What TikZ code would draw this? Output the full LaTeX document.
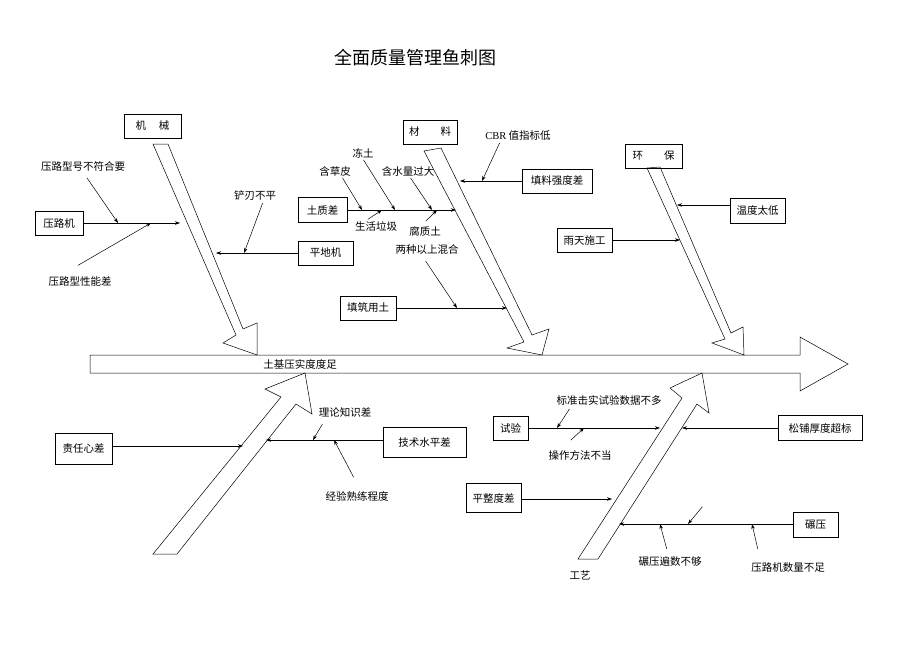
\documentclass[tikz,border=0pt]{standalone}
\usepackage{fontspec}
\setmainfont{Liberation Serif}
\newfontfamily\cjk{Noto Sans CJK SC}
\usetikzlibrary{arrows.meta}
\newcommand{\txt}{\cjk\fontsize{10.5}{12}\selectfont}

\begin{document}
\begin{tikzpicture}[x=1pt,y=-1pt,line width=0.5pt,
		box/.style={draw,inner sep=0pt,font=\txt},
		lbl/.style={inner sep=1pt,font=\txt},
		cause/.style={-{Stealth[length=5pt,width=3.5pt]}},
		lead/.style={-{Stealth[length=5pt,width=3.5pt]},shorten <=1pt}]
		\useasboundingbox (0,0) rectangle (920,651);
		
		\node [font=\cjk\fontsize{18}{20}\selectfont] (title) at (415,58) {全面质量管理鱼刺图};
		
		% spine
		\draw (90,355) -- (800,355) -- (800,337) -- (848,364) -- (800,391) -- (800,373) -- (90,373) -- cycle;
		\node [lbl] (effect) at (300,364) {土基压实度度足};
		
		% main bones
		\draw (153,144) -- (236,335) -- (223,343) -- (257,355) -- (257,323) -- (243,329) -- (168,144) -- cycle;
		\draw (424,151) -- (524,342) -- (507,348) -- (542,355) -- (549,329) -- (532,335) -- (441,148) -- cycle;
		\draw (647,168) -- (725,339) -- (712,343) -- (744,355) -- (743,327) -- (731,333) -- (660,167) -- cycle;
		\draw (153,554) -- (281,397) -- (265,389) -- (305,373) -- (312,414) -- (296,404) -- (177,554) -- cycle;
		\draw (578,559) -- (682,398) -- (670,388) -- (702,373) -- (709,413) -- (697,404) -- (598,559) -- cycle;
		
		% boxes
		\node [box,minimum width=57pt,minimum height=24pt] (jixie) at (152.5,126) {机\hspace{1.2em}械};
		\node [box,minimum width=54pt,minimum height=24pt] (cailiao) at (430,132) {材\hspace{2em}料};
		\node [box,minimum width=57pt,minimum height=24pt] (huanbao) at (653.5,156) {环\hspace{2em}保};
		\node [box,minimum width=48pt,minimum height=24pt] (yaluji) at (59,223) {压路机};
		\node [box,minimum width=55pt,minimum height=24pt] (pingdiji) at (325.5,253) {平地机};
		\node [box,minimum width=49pt,minimum height=25pt] (tuzhi) at (322.5,210) {土质差};
		\node [box,minimum width=70pt,minimum height=24pt] (tianliao) at (557,181) {填料强度差};
		\node [box,minimum width=56pt,minimum height=24pt] (tianzhu) at (368,308) {填筑用土};
		\node [box,minimum width=55pt,minimum height=25pt] (wendu) at (757.5,210.5) {温度太低};
		\node [box,minimum width=55pt,minimum height=24pt] (yutian) at (584.5,240) {雨天施工};
		\node [box,minimum width=57pt,minimum height=31pt] (zeren) at (83.5,448.5) {责任心差};
		\node [box,minimum width=83pt,minimum height=30pt] (jishu) at (424.5,442) {技术水平差\hspace{10pt}};
		\node [box,minimum width=35pt,minimum height=24pt] (shiyan) at (510.5,428) {试验};
		\node [box,minimum width=84pt,minimum height=25pt] (songpu) at (820,428) {松铺厚度超标};
		\node [box,minimum width=55pt,minimum height=29pt] (pingzheng) at (493.5,498) {平整度差};
		\node [box,minimum width=45pt,minimum height=25pt] (nianya) at (815.5,524.5) {碾压};
		
		% ends of the cause lines
		\coordinate (j1) at (180,223);
		\coordinate (j2) at (216,253);
		\coordinate (j3) at (456,210);
		\coordinate (j4) at (460,181);
		\coordinate (j5) at (507,308);
		\coordinate (j6) at (677,205);
		\coordinate (j7) at (680,240);
		\coordinate (j8) at (243,446);
		\coordinate (j9) at (266,440);
		\coordinate (j10) at (660,428);
		\coordinate (j11) at (682,428);
		\coordinate (j12) at (612,499);
		\coordinate (j13) at (619,524);
		
		\draw [cause] (yaluji.east |- j1) -- (j1);
		\draw [cause] (pingdiji.west |- j2) -- (j2);
		\draw [cause] (tuzhi.east |- j3) -- (j3);
		\draw [cause] (tianliao.west |- j4) -- (j4);
		\draw [cause] (tianzhu.east |- j5) -- (j5);
		\draw [cause] (wendu.west |- j6) -- (j6);
		\draw [cause] (yutian.east |- j7) -- (j7);
		\draw [cause] (zeren.east |- j8) -- (j8);
		\draw [cause] (jishu.west |- j9) -- (j9);
		\draw [cause] (shiyan.east |- j10) -- (j10);
		\draw [cause] (songpu.west |- j11) -- (j11);
		\draw [cause] (pingzheng.east |- j12) -- (j12);
		\draw [cause] (nianya.west |- j13) -- (j13);
		
		% sub causes
		\node [lbl] (l1) at (83,166) {压路型号不符合要};
		\node [lbl] (l2) at (80,281) {压路型性能差};
		\node [lbl] (l3) at (255,196) {铲刃不平};
		\node [lbl] (l4) at (335,171) {含草皮};
		\node [lbl] (l5) at (363,153) {冻土};
		\node [lbl] (l6) at (408,171) {含水量过大};
		\node [lbl] (l7) at (376,226) {生活垃圾};
		\node [lbl] (l8) at (425,232) {腐质土};
		\node [lbl] (l9) at (518,136) {{\rmfamily CBR} 值指标低};
		\node [lbl] (l10) at (427,250) {两种以上混合};
		\node [lbl] (l11) at (345,412) {理论知识差};
		\node [lbl] (l12) at (357,496) {经验熟练程度};
		\node [lbl] (l13) at (609,400) {标准击实试验数据不多};
		\node [lbl] (l14) at (580,455) {操作方法不当};
		\node [lbl] (l15) at (670,562) {碾压遍数不够};
		\node [lbl] (l16) at (788,568) {压路机数量不足};
		\node [lbl] (l17) at (580,575) {工艺};
		
		\coordinate (p1) at (118,223);
		\coordinate (p2) at (151,223);
		\coordinate (p3) at (244,253);
		\coordinate (p4) at (362,210);
		\coordinate (p5) at (395,210);
		\coordinate (p6) at (432,210);
		\coordinate (p7) at (382,210);
		\coordinate (p8) at (437,210);
		\coordinate (p9) at (482,181);
		\coordinate (p10) at (457,308);
		\coordinate (p11) at (313,440);
		\coordinate (p12) at (334,440);
		\coordinate (p13) at (557,428);
		\coordinate (p14) at (584,428);
		\coordinate (p15) at (688,524);
		\coordinate (p16) at (660,524);
		\coordinate (p17) at (752,524);
		\coordinate (q15) at (703,506);
		
		\draw [lead,shorten <=7pt] (l1.south) -- (p1);
		\draw [lead] ([xshift=-3pt,yshift=9pt]l2.north) -- (p2);
		\draw [lead] ([xshift=8pt]l3.south) -- (p3);
		\draw [lead] ([xshift=7pt]l4.south) -- (p4);
		\draw [lead] (l5.south) -- (p5);
		\draw [lead] ([xshift=2pt]l6.south) -- (p6);
		\draw [lead] ([xshift=-9pt]l7.north) -- (p7);
		\draw [lead] ([yshift=4pt]l8.north) -- (p8);
		\draw [lead] ([xshift=-18pt]l9.south) -- (p9);
		\draw [lead] ([xshift=-2pt,yshift=-4pt]l10.south) -- (p10);
		\draw [lead] ([xshift=-22pt,yshift=-5pt]l11.south) -- (p11);
		\draw [lead] ([xshift=-3pt,yshift=12pt]l12.north) -- (p12);
		\draw [lead] ([xshift=-39pt,yshift=-2pt]l13.south) -- (p13);
		\draw [lead] ([xshift=-10pt,yshift=8pt]l14.north) -- (p14);
		\draw [lead] (q15) -- (p15);
		\draw [lead] ([xshift=-3pt,yshift=6pt]l15.north) -- (p16);
		\draw [lead] ([xshift=-30pt,yshift=12pt]l16.north) -- (p17);
	\end{tikzpicture}
\end{document}
